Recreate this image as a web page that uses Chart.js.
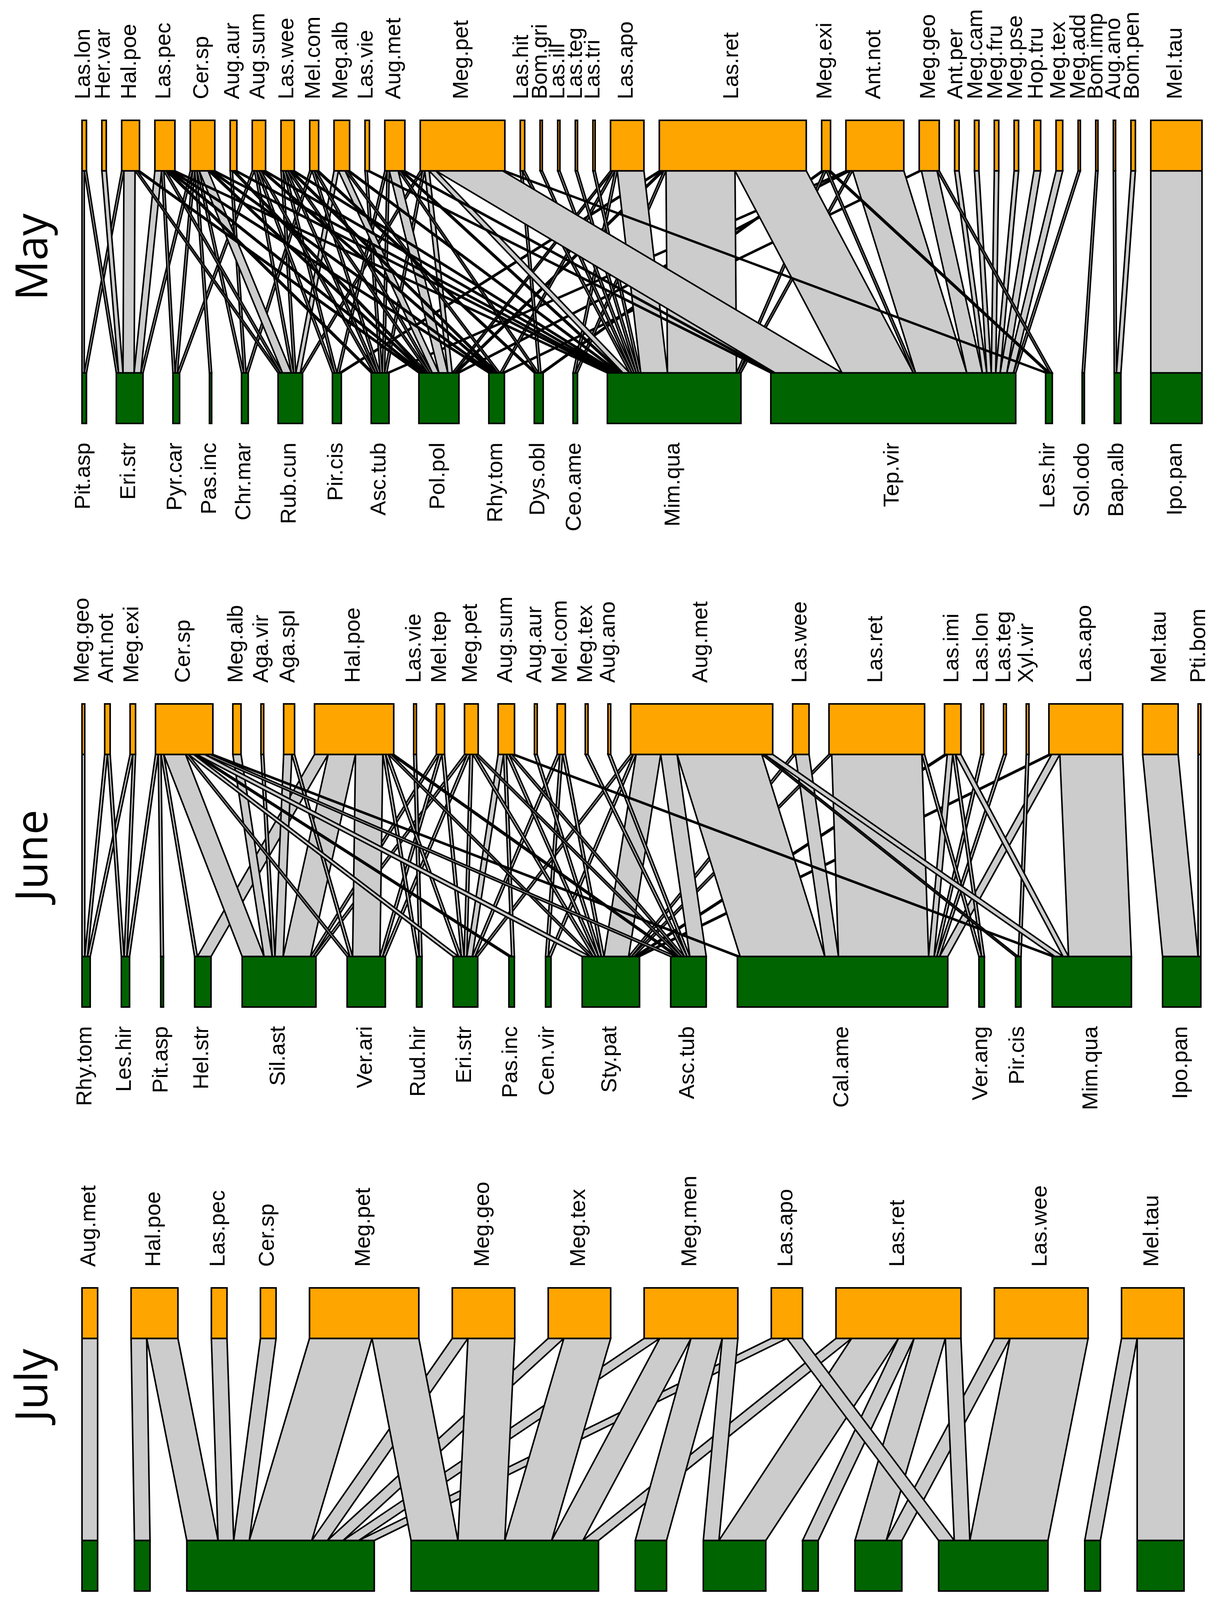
<!DOCTYPE html>
<html>
<head>
<meta charset="utf-8">
<script src="https://cdn.jsdelivr.net/npm/chart.js@4.4.0/dist/chart.umd.min.js"></script>
<style>
html,body{margin:0;padding:0;background:#ffffff;width:3119px;height:4365px;overflow:hidden;position:relative}
canvas{position:absolute;left:0}
</style>
</head>
<body>
<canvas id="c0" width="3119" height="1376" style="top:0px"></canvas>
<canvas id="c1" width="3119" height="1376" style="top:1494px"></canvas>
<canvas id="c2" width="3119" height="1376" style="top:2989px"></canvas>
<script>
// ---------------- DATA ----------------
// May
const mayTop = ["Las.lon","Her.var","Hal.poe","Las.pec","Cer.sp","Aug.aur","Aug.sum","Las.wee","Mel.com","Meg.alb","Las.vie","Aug.met","Meg.pet","Las.hit","Bom.gri","Las.ill","Las.teg","Las.tri","Las.apo","Las.ret","Meg.exi","Ant.not","Meg.geo","Ant.per","Meg.cam","Meg.fru","Meg.pse","Hop.tru","Meg.tex","Meg.add","Bom.imp","Aug.ano","Bom.pen","Mel.tau"];
const mayBottom = ["Pit.asp","Eri.str","Pyr.car","Pas.inc","Chr.mar","Rub.cun","Pir.cis","Asc.tub","Pol.pol","Rhy.tom","Dys.obl","Ceo.ame","Mim.qua","Tep.vir","Les.hir","Sol.odo","Bap.alb","Ipo.pan"];
const mayLinks = [
 ["Las.lon","Pit.asp",1],["Las.lon","Eri.str",1],
 ["Her.var","Eri.str",2],
 ["Hal.poe","Pit.asp",1],["Hal.poe","Eri.str",5],["Hal.poe","Rub.cun",1],["Hal.poe","Pol.pol",1],
 ["Las.pec","Eri.str",3],["Las.pec","Pyr.car",1],["Las.pec","Rub.cun",1],["Las.pec","Asc.tub",1],["Las.pec","Pol.pol",1],["Las.pec","Rhy.tom",1],["Las.pec","Mim.qua",1],
 ["Cer.sp","Eri.str",1],["Cer.sp","Pyr.car",1],["Cer.sp","Pas.inc",1],["Cer.sp","Chr.mar",1],["Cer.sp","Rub.cun",4],["Cer.sp","Pol.pol",1],["Cer.sp","Rhy.tom",1],["Cer.sp","Mim.qua",1],
 ["Aug.aur","Chr.mar",1],["Aug.aur","Pol.pol",1],["Aug.aur","Mim.qua",1],
 ["Aug.sum","Pyr.car",1],["Aug.sum","Rub.cun",1],["Aug.sum","Pir.cis",1],["Aug.sum","Asc.tub",1],["Aug.sum","Rhy.tom",1],["Aug.sum","Mim.qua",1],
 ["Las.wee","Rub.cun",1],["Las.wee","Pir.cis",1],["Las.wee","Asc.tub",1],["Las.wee","Pol.pol",1],["Las.wee","Rhy.tom",1],["Las.wee","Mim.qua",1],
 ["Mel.com","Chr.mar",1],["Mel.com","Asc.tub",1],["Mel.com","Pol.pol",1],["Mel.com","Dys.obl",1],
 ["Meg.alb","Rub.cun",2],["Meg.alb","Pol.pol",3],["Meg.alb","Rhy.tom",1],["Meg.alb","Mim.qua",1],
 ["Las.vie","Asc.tub",1],["Las.vie","Tep.vir",1],
 ["Aug.met","Pir.cis",1],["Aug.met","Asc.tub",1],["Aug.met","Pol.pol",4],["Aug.met","Dys.obl",1],["Aug.met","Mim.qua",1],["Aug.met","Tep.vir",1],
 ["Meg.pet","Rub.cun",1],["Meg.pet","Asc.tub",1],["Meg.pet","Pol.pol",2],["Meg.pet","Mim.qua",3],["Meg.pet","Tep.vir",30],["Meg.pet","Les.hir",1],
 ["Las.hit","Dys.obl",1],["Las.hit","Mim.qua",1],
 ["Bom.gri","Mim.qua",1],["Las.ill","Mim.qua",1],["Las.teg","Mim.qua",1],["Las.tri","Mim.qua",1],
 ["Las.apo","Pol.pol",1],["Las.apo","Rhy.tom",1],["Las.apo","Ceo.ame",1],["Las.apo","Mim.qua",12],
 ["Las.ret","Pir.cis",1],["Las.ret","Pol.pol",1],["Las.ret","Ceo.ame",1],["Las.ret","Mim.qua",31],["Las.ret","Tep.vir",32],
 ["Meg.exi","Dys.obl",1],["Meg.exi","Mim.qua",1],["Meg.exi","Tep.vir",1],["Meg.exi","Les.hir",1],
 ["Ant.not","Asc.tub",1],["Ant.not","Pol.pol",1],["Ant.not","Mim.qua",1],["Ant.not","Tep.vir",23],
 ["Meg.geo","Rhy.tom",1],["Meg.geo","Tep.vir",7],["Meg.geo","Les.hir",1],
 ["Ant.per","Tep.vir",2],["Meg.cam","Tep.vir",2],["Meg.fru","Tep.vir",2],["Meg.pse","Tep.vir",2],
 ["Hop.tru","Tep.vir",3],["Meg.tex","Tep.vir",3],["Meg.add","Tep.vir",1],
 ["Bom.imp","Sol.odo",1],["Aug.ano","Bap.alb",1],["Bom.pen","Bap.alb",2],
 ["Mel.tau","Ipo.pan",23]
];

// June
const juneTop = ["Meg.geo","Ant.not","Meg.exi","Cer.sp","Meg.alb","Aga.vir","Aga.spl","Hal.poe","Las.vie","Mel.tep","Meg.pet","Aug.sum","Aug.aur","Mel.com","Meg.tex","Aug.ano","Aug.met","Las.wee","Las.ret","Las.imi","Las.lon","Las.teg","Xyl.vir","Las.apo","Mel.tau","Pti.bom"];
const juneBottom = ["Rhy.tom","Les.hir","Pit.asp","Hel.str","Sil.ast","Ver.ari","Rud.hir","Eri.str","Pas.inc","Cen.vir","Sty.pat","Asc.tub","Cal.ame","Ver.ang","Pir.cis","Mim.qua","Ipo.pan"];
const juneLinks = [
 ["Meg.geo","Rhy.tom",1],
 ["Ant.not","Rhy.tom",1],["Ant.not","Les.hir",1],
 ["Meg.exi","Rhy.tom",1],["Meg.exi","Les.hir",1],
 ["Cer.sp","Les.hir",1],["Cer.sp","Pit.asp",1],["Cer.sp","Hel.str",1],["Cer.sp","Sil.ast",8],["Cer.sp","Ver.ari",1],["Cer.sp","Eri.str",2],["Cer.sp","Pas.inc",1],["Cer.sp","Sty.pat",3],["Cer.sp","Asc.tub",2],["Cer.sp","Cal.ame",1],
 ["Meg.alb","Sil.ast",3],
 ["Aga.vir","Sil.ast",1],
 ["Aga.spl","Sil.ast",3],["Aga.spl","Ver.ari",1],
 ["Hal.poe","Hel.str",5],["Hal.poe","Sil.ast",10],["Hal.poe","Ver.ari",10],["Hal.poe","Rud.hir",1],["Hal.poe","Eri.str",1],["Hal.poe","Sty.pat",1],["Hal.poe","Asc.tub",1],
 ["Las.vie","Rud.hir",1],
 ["Mel.tep","Sil.ast",1],["Mel.tep","Ver.ari",1],["Mel.tep","Eri.str",1],
 ["Meg.pet","Sil.ast",1],["Meg.pet","Ver.ari",1],["Meg.pet","Eri.str",1],["Meg.pet","Sty.pat",1],["Meg.pet","Asc.tub",1],
 ["Aug.sum","Eri.str",2],["Aug.sum","Pas.inc",1],["Aug.sum","Sty.pat",1],["Aug.sum","Asc.tub",1],["Aug.sum","Mim.qua",1],
 ["Aug.aur","Sty.pat",1],
 ["Mel.com","Eri.str",1],["Mel.com","Cen.vir",1],["Mel.com","Sty.pat",1],
 ["Meg.tex","Asc.tub",1],
 ["Aug.ano","Asc.tub",1],
 ["Aug.met","Eri.str",1],["Aug.met","Cen.vir",1],["Aug.met","Sty.pat",9],["Aug.met","Asc.tub",6],["Aug.met","Cal.ame",31],["Aug.met","Pir.cis",1],["Aug.met","Mim.qua",3],
 ["Las.wee","Sty.pat",1],["Las.wee","Cal.ame",5],
 ["Las.ret","Sty.pat",1],["Las.ret","Cal.ame",33],["Las.ret","Ver.ang",1],
 ["Las.imi","Sty.pat",1],["Las.imi","Cal.ame",2],["Las.imi","Ver.ang",1],["Las.imi","Mim.qua",2],
 ["Las.lon","Cal.ame",1],
 ["Las.teg","Cal.ame",1],
 ["Xyl.vir","Pir.cis",1],
 ["Las.apo","Sty.pat",1],["Las.apo","Cal.ame",3],["Las.apo","Mim.qua",23],
 ["Mel.tau","Ipo.pan",13],
 ["Pti.bom","Ipo.pan",1]
];

// July
const julyTop = ["Aug.met","Hal.poe","Las.pec","Cer.sp","Meg.pet","Meg.geo","Meg.tex","Meg.men","Las.apo","Las.ret","Las.wee","Mel.tau"];
const julyBottom = ["Cal.ame","Hel.str","Sil.ast","Ver.ang","Hyp.cis","Sab.ang","Asc.tub","Pas.inc","Sol.alt","Hib.acu","Ipo.pan"];
const julyLinks = [
 ["Aug.met","Cal.ame",1],
 ["Hal.poe","Hel.str",1],["Hal.poe","Sil.ast",2],
 ["Las.pec","Sil.ast",1],
 ["Cer.sp","Sil.ast",1],
 ["Meg.pet","Sil.ast",4],["Meg.pet","Ver.ang",3],
 ["Meg.geo","Sil.ast",1],["Meg.geo","Ver.ang",3],
 ["Meg.tex","Sil.ast",1],["Meg.tex","Ver.ang",3],
 ["Meg.men","Sil.ast",1],["Meg.men","Ver.ang",2],["Meg.men","Hyp.cis",2],["Meg.men","Sab.ang",1],
 ["Las.apo","Sil.ast",1],["Las.apo","Sol.alt",1],
 ["Las.ret","Ver.ang",1],["Las.ret","Sab.ang",3],["Las.ret","Asc.tub",1],["Las.ret","Pas.inc",2],["Las.ret","Sol.alt",1],
 ["Las.wee","Pas.inc",1],["Las.wee","Sol.alt",5],
 ["Mel.tau","Hib.acu",1],["Mel.tau","Ipo.pan",3]
];

const panelTitles = ["May","June","July"];

// ---------------- LAYOUT / STYLE ----------------
const STYLE = {
  highCol: "#FFA500", lowCol: "#006400", linkCol: "#CCCCCC", border: "#000000",
  lineW: 4,
  labelFont: '56px "Liberation Sans", Arial, sans-serif',
  titleFont: '114px "Open Sans", "Noto Sans", sans-serif',
  labelGapTop: 54, labelGapBottom: 49, labelShift: 14,
  titleBaselineX: 121
};
// y levels (data units): low boxes 0..1, links 1..5, high boxes 5..6
const LEV = {lowBot:0, lowTop:1, highBot:5, highTop:6};

const panels = [
  {id:"c0", title:panelTitles[0], top:mayTop, bottom:mayBottom, links:mayLinks, right:3078, fill:0.5467, titleY:658},
  {id:"c1", title:panelTitles[1], top:juneTop, bottom:juneBottom, links:juneLinks, right:3075, fill:0.5543, titleY:696},
  {id:"c2", title:panelTitles[2], top:julyTop, bottom:julyBottom, links:julyLinks, right:3032, fill:0.6662, titleY:557}
];

function computeWeb(p) {
  const total = p.links.reduce((s,l)=>s+l[2],0);
  const xMax = total / p.fill;
  const segs = p.links.map(l => ({t:p.top.indexOf(l[0]), b:p.bottom.indexOf(l[1]), w:l[2]}));
  const topW = p.top.map((n,i)=>segs.filter(s=>s.t===i).reduce((a,s)=>a+s.w,0));
  const botW = p.bottom.map((n,i)=>segs.filter(s=>s.b===i).reduce((a,s)=>a+s.w,0));
  const gapT = (xMax-total)/(p.top.length-1);
  const gapB = (xMax-total)/(p.bottom.length-1);
  let cx = 0; const topX = topW.map(w=>{const s=cx; cx+=w+gapT; return s;});
  cx = 0; const botX = botW.map(w=>{const s=cx; cx+=w+gapB; return s;});
  p.top.forEach((n,i)=>{
    let c = topX[i];
    segs.filter(s=>s.t===i).sort((a,b)=>a.b-b.b).forEach(s=>{s.tx=c; c+=s.w;});
  });
  p.bottom.forEach((n,j)=>{
    let c = botX[j];
    segs.filter(s=>s.b===j).sort((a,b)=>a.t-b.t).forEach(s=>{s.bx=c; c+=s.w;});
  });
  segs.sort((a,b)=> (a.b-b.b) || (a.t-b.t));
  return {xMax, segs, topW, botW, topX, botX};
}

function webPlugin(p, L) {
  return {
    id: "web_"+p.id,
    afterDraw(chart) {
      const ctx = chart.ctx;
      const xs = chart.scales.x, ys = chart.scales.y;
      const X = v => xs.getPixelForValue(v), Y = v => ys.getPixelForValue(v);
      ctx.save();
      ctx.lineJoin = "miter";
      ctx.lineWidth = STYLE.lineW;
      ctx.strokeStyle = STYLE.border;
      // interactions
      const yt = Y(LEV.highBot), yb = Y(LEV.lowTop);
      ctx.fillStyle = STYLE.linkCol;
      L.segs.forEach(s=>{
        ctx.beginPath();
        ctx.moveTo(X(s.tx), yt);
        ctx.lineTo(X(s.tx+s.w), yt);
        ctx.lineTo(X(s.bx+s.w), yb);
        ctx.lineTo(X(s.bx), yb);
        ctx.closePath();
        ctx.fill(); ctx.stroke();
      });
      // boxes
      const box = (x0,w,y0,y1,col)=>{
        const l = X(x0), r = X(x0+w), t = Y(y1), b = Y(y0);
        ctx.fillStyle = col;
        ctx.fillRect(l,t,r-l,b-t);
        ctx.strokeRect(l,t,r-l,b-t);
      };
      p.top.forEach((n,i)=>box(L.topX[i], L.topW[i], LEV.highBot, LEV.highTop, STYLE.highCol));
      p.bottom.forEach((n,j)=>box(L.botX[j], L.botW[j], LEV.lowBot, LEV.lowTop, STYLE.lowCol));
      // labels
      ctx.fillStyle = "#000";
      ctx.font = STYLE.labelFont;
      ctx.textBaseline = "alphabetic";
      p.top.forEach((n,i)=>{
        const c = X(L.topX[i] + L.topW[i]/2);
        ctx.save();
        ctx.translate(c + STYLE.labelShift, Y(LEV.highTop) - STYLE.labelGapTop);
        ctx.rotate(-Math.PI/2);
        ctx.textAlign = "left";
        ctx.fillText(n, 0, 0);
        ctx.restore();
      });
      p.bottom.forEach((n,j)=>{
        const c = X(L.botX[j] + L.botW[j]/2);
        ctx.save();
        ctx.translate(c + STYLE.labelShift, Y(LEV.lowBot) + STYLE.labelGapBottom);
        ctx.rotate(-Math.PI/2);
        ctx.textAlign = "right";
        ctx.fillText(n, 0, 0);
        ctx.restore();
      });
      // panel title
      ctx.save();
      ctx.font = STYLE.titleFont;
      ctx.translate(STYLE.titleBaselineX, p.titleY);
      ctx.rotate(-Math.PI/2);
      ctx.textAlign = "center";
      ctx.fillText(p.title, 0, 0);
      ctx.restore();
      ctx.restore();
    }
  };
}

panels.forEach(p=>{
  const L = computeWeb(p);
  const canvas = document.getElementById(p.id);
  new Chart(canvas, {
    type: "scatter",
    data: { datasets: [] },
    options: {
      responsive: false,
      animation: false,
      devicePixelRatio: 1,
      layout: { padding: { left: 210, right: 3119 - p.right, top: 308, bottom: 1376 - 308 - 776 } },
      scales: {
        x: { type: "linear", min: 0, max: L.xMax, display: false },
        y: { type: "linear", min: LEV.lowBot, max: LEV.highTop, display: false }
      },
      plugins: { legend: { display: false }, tooltip: { enabled: false }, title: { display: false } }
    },
    plugins: [ webPlugin(p, L) ]
  });
});
</script>
</body>
</html>
